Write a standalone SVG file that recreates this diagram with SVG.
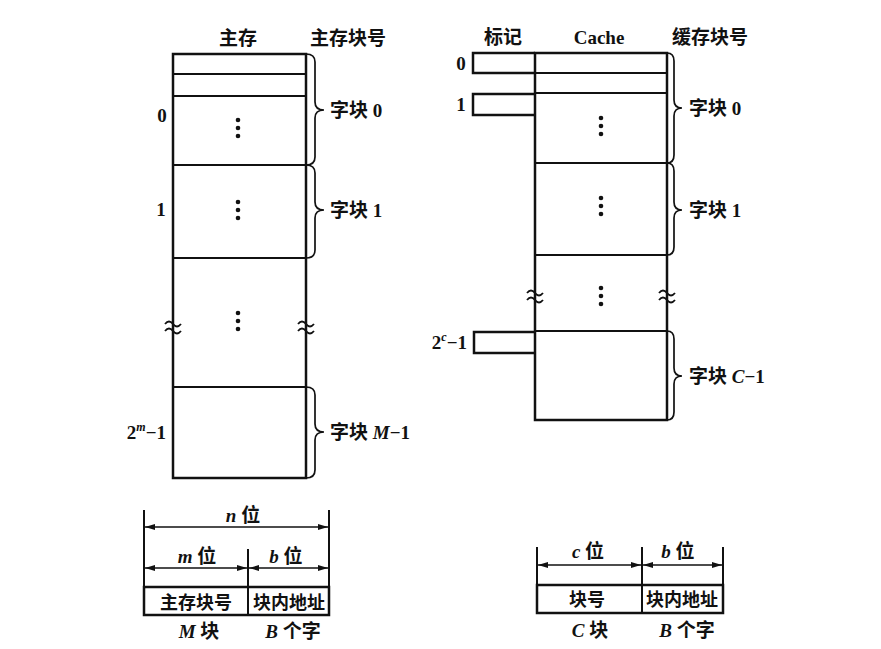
<svg xmlns="http://www.w3.org/2000/svg" width="881" height="649" viewBox="0 0 881 649">
<defs>
<marker id="ah" viewBox="0 0 10 6" refX="10" refY="3" markerWidth="10" markerHeight="6" markerUnits="userSpaceOnUse" orient="auto-start-reverse">
<path d="M0,0 L10,3 L0,6 Z" fill="#111"/>
</marker>
</defs>
<style>
.box{fill:none;stroke:#111;stroke-width:2.5}
.ln{fill:none;stroke:#111;stroke-width:2}
.br{fill:none;stroke:#111;stroke-width:1.7}
.wv{fill:none;stroke:#111;stroke-width:1.8}
.ar{fill:none;stroke:#111;stroke-width:1.6;marker-start:url(#ah);marker-end:url(#ah)}
.dot{fill:#111}
text{font-family:"Liberation Serif","Noto Sans CJK SC",serif;font-weight:bold;font-size:19px;fill:#111}
.c{text-anchor:middle}
.r{text-anchor:end}
.i{font-style:italic}
.s{font-size:18px}
</style>
<rect width="881" height="649" fill="#fff"/>

<!-- headers -->
<g id="headers">
<text class="c" x="238" y="45">主存</text>
<text class="c" x="348" y="45">主存块号</text>
<text class="c" x="503" y="44">标记</text>
<text class="c" x="599" y="44">Cache</text>
<text class="c" x="710" y="44">缓存块号</text>
</g>

<!-- main memory -->
<g id="main-memory">
<rect class="box" x="173" y="54" width="133" height="424"/>
<line class="ln" x1="173" y1="74" x2="306" y2="74"/>
<line class="ln" x1="173" y1="96" x2="306" y2="96"/>
<line class="ln" x1="173" y1="165" x2="306" y2="165"/>
<line class="ln" x1="173" y1="258" x2="306" y2="258"/>
<line class="ln" x1="173" y1="387" x2="306" y2="387"/>
<g class="dot">
<circle cx="238" cy="120" r="2.3"/><circle cx="238" cy="128" r="2.3"/><circle cx="238" cy="136" r="2.3"/>
<circle cx="238" cy="202" r="2.3"/><circle cx="238" cy="210" r="2.3"/><circle cx="238" cy="218" r="2.3"/>
<circle cx="238" cy="313" r="2.3"/><circle cx="238" cy="321" r="2.3"/><circle cx="238" cy="329" r="2.3"/>
</g>
<path class="wv" d="M165,324 q4,-5 8,0 t8,0 M165,331 q4,-5 8,0 t8,0"/>
<path class="wv" d="M298,324 q4,-5 8,0 t8,0 M298,331 q4,-5 8,0 t8,0"/>
<text class="c" x="162" y="122">0</text>
<text class="c" x="161" y="216">1</text>
<text class="r" x="166" y="439">2<tspan class="i" font-size="12" dy="-8">m</tspan><tspan dy="8">−1</tspan></text>
</g>

<!-- main memory braces -->
<g id="main-braces">
<path class="br" d="M306,54 Q315,54 315,62 L315,102 Q315,110 324,110 Q315,110 315,118 L315,157 Q315,165 306,165"/>
<path class="br" d="M306,165 Q315,165 315,173 L315,202 Q315,210 324,210 Q315,210 315,218 L315,250 Q315,258 306,258"/>
<path class="br" d="M306,387 Q315,387 315,395 L315,424 Q315,432 324,432 Q315,432 315,440 L315,470 Q315,478 306,478"/>
<text x="330" y="117">字块 0</text>
<text x="330" y="217">字块 1</text>
<text x="330" y="439">字块 <tspan class="i">M</tspan>−1</text>
</g>

<!-- cache -->
<g id="cache">
<rect class="box" x="535" y="53" width="132" height="367"/>
<line class="ln" x1="535" y1="73" x2="667" y2="73"/>
<line class="ln" x1="535" y1="93" x2="667" y2="93"/>
<line class="ln" x1="535" y1="163" x2="667" y2="163"/>
<line class="ln" x1="535" y1="255" x2="667" y2="255"/>
<line class="ln" x1="535" y1="331" x2="667" y2="331"/>
<g class="dot">
<circle cx="601" cy="118" r="2.3"/><circle cx="601" cy="126" r="2.3"/><circle cx="601" cy="134" r="2.3"/>
<circle cx="601" cy="198" r="2.3"/><circle cx="601" cy="206" r="2.3"/><circle cx="601" cy="214" r="2.3"/>
<circle cx="601" cy="288" r="2.3"/><circle cx="601" cy="296" r="2.3"/><circle cx="601" cy="304" r="2.3"/>
</g>
<path class="wv" d="M527,293 q4,-5 8,0 t8,0 M527,300 q4,-5 8,0 t8,0"/>
<path class="wv" d="M659,293 q4,-5 8,0 t8,0 M659,300 q4,-5 8,0 t8,0"/>
</g>

<!-- tags -->
<g id="tags">
<path class="box" d="M535,53 L473,53 L473,73 L535,73"/>
<path class="box" d="M535,94 L473,94 L473,115 L535,115"/>
<path class="box" d="M535,332 L474,332 L474,353 L535,353"/>
<text class="c" x="461" y="70">0</text>
<text class="c" x="461" y="111">1</text>
<text class="r" x="467" y="349">2<tspan class="i" font-size="12" dy="-8">c</tspan><tspan dy="8">−1</tspan></text>
</g>

<!-- cache braces -->
<g id="cache-braces">
<path class="br" d="M667,53 Q674,53 674,61 L674,100 Q674,108 682,108 Q674,108 674,116 L674,155 Q674,163 667,163"/>
<path class="br" d="M667,163 Q674,163 674,171 L674,202 Q674,210 682,210 Q674,210 674,218 L674,247 Q674,255 667,255"/>
<path class="br" d="M667,331 Q674,331 674,339 L674,368 Q674,376 682,376 Q674,376 674,384 L674,412 Q674,420 667,420"/>
<text x="689" y="115">字块 0</text>
<text x="689" y="217">字块 1</text>
<text x="689" y="383">字块 <tspan class="i">C</tspan>−1</text>
</g>

<!-- main memory address format -->
<g id="mm-address">
<line class="ln" x1="144" y1="510" x2="144" y2="615"/>
<line class="ln" x1="329" y1="510" x2="329" y2="615"/>
<line class="ln" x1="248" y1="549" x2="248" y2="615"/>
<line class="ar" x1="145" y1="527" x2="328" y2="527"/>
<line class="ar" x1="145" y1="568" x2="247" y2="568"/>
<line class="ar" x1="249" y1="568" x2="328" y2="568"/>
<rect class="box" x="144" y="587" width="185" height="28"/>
<text class="c" x="243" y="522"><tspan class="i">n</tspan> 位</text>
<text class="c" x="197" y="563"><tspan class="i">m</tspan> 位</text>
<text class="c" x="286" y="563"><tspan class="i">b</tspan> 位</text>
<text class="c s" x="196" y="609">主存块号</text>
<text class="c s" x="289" y="609">块内地址</text>
<text class="c" x="199" y="638"><tspan class="i">M</tspan> 块</text>
<text class="c" x="293" y="638"><tspan class="i">B</tspan> 个字</text>
</g>

<!-- cache address format -->
<g id="cache-address">
<line class="ln" x1="537" y1="547" x2="537" y2="613"/>
<line class="ln" x1="642" y1="547" x2="642" y2="613"/>
<line class="ln" x1="723" y1="547" x2="723" y2="613"/>
<line class="ar" x1="538" y1="565" x2="641" y2="565"/>
<line class="ar" x1="643" y1="565" x2="722" y2="565"/>
<rect class="box" x="537" y="585" width="186" height="28"/>
<text class="c" x="588" y="558"><tspan class="i">c</tspan> 位</text>
<text class="c" x="678" y="558"><tspan class="i">b</tspan> 位</text>
<text class="c s" x="587" y="606">块号</text>
<text class="c s" x="682" y="606">块内地址</text>
<text class="c" x="590" y="637"><tspan class="i">C</tspan> 块</text>
<text class="c" x="687" y="637"><tspan class="i">B</tspan> 个字</text>
</g>
</svg>
